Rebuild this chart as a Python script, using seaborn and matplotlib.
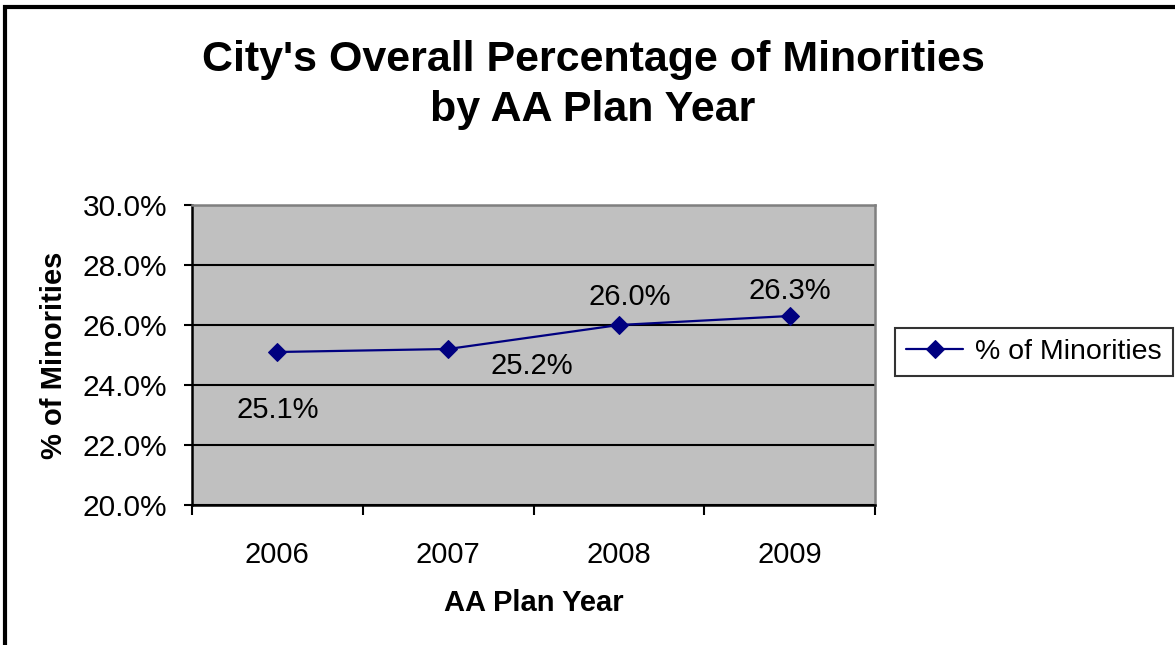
import numpy as np
import pandas as pd
import matplotlib
matplotlib.use('Agg')
import matplotlib.pyplot as plt
import matplotlib.patches as patches
from matplotlib.ticker import FixedLocator
import seaborn as sns

# Chart data
years = ['2006', '2007', '2008', '2009']
minority_pct = [25.1, 25.2, 26.0, 26.3]
y_ticks = [20.0, 22.0, 24.0, 26.0, 28.0, 30.0]
series_name = '% of Minorities'

# where each data label sits relative to its marker (points)
label_offsets = [(0, -42), (60, -12), (8, 20), (0, 18)]

sns.set_style('white')
plt.rcParams['font.family'] = ['Liberation Sans', 'DejaVu Sans']
plt.rcParams['text.color'] = 'black'
plt.rcParams['axes.labelcolor'] = 'black'
plt.rcParams['xtick.color'] = 'black'
plt.rcParams['ytick.color'] = 'black'

df = pd.DataFrame({'pos': np.arange(len(years)), 'pct': minority_pct})

fig = plt.figure(figsize=(11.75, 6.45), dpi=100)
ax = fig.add_axes([192 / 1175, 1 - 505 / 645, 683 / 1175, 300 / 645])
ax.set_facecolor('#C0C0C0')

sns.lineplot(data=df, x='pos', y='pct', ax=ax, color='#000080', linewidth=1.6,
             marker='D', markersize=9, markeredgecolor='#000080', label=series_name)

for i, v in enumerate(minority_pct):
    ax.annotate(f'{v:.1f}%', (df['pos'][i], v), xytext=label_offsets[i],
                textcoords='offset points', ha='center', va='center', fontsize=21)

ax.set_xlim(-0.5, len(years) - 0.5)
ax.set_ylim(y_ticks[0], y_ticks[-1])
ax.set_yticks(y_ticks)
ax.set_yticklabels([f'{t:.1f}%' for t in y_ticks], fontsize=21.5)
ax.set_xticks(df['pos'])
ax.set_xticklabels(years, fontsize=21)
ax.xaxis.set_minor_locator(FixedLocator(np.arange(-0.5, len(years), 1.0)))
ax.tick_params(axis='x', which='major', length=0, pad=26)
ax.tick_params(axis='x', which='minor', length=7, width=1.5, color='black', direction='out', bottom=True)
ax.tick_params(axis='y', which='major', length=6, width=1.5, color='black', direction='out', left=True, pad=12)

ax.grid(axis='y', color='black', linewidth=1.5)
ax.grid(axis='x', visible=False)
for side in ['left', 'bottom']:
    ax.spines[side].set_color('black')
    ax.spines[side].set_linewidth(1.8)
for side in ['top', 'right']:
    ax.spines[side].set_color('#808080')
    ax.spines[side].set_linewidth(1.8)

ax.set_xlabel('AA Plan Year', fontsize=21, fontweight='bold', labelpad=14)
ax.set_ylabel('% of Minorities', fontsize=21, fontweight='bold', labelpad=10)

fig.text(593 / 1175, 1 - 85 / 645, "City's Overall Percentage of Minorities\nby AA Plan Year",
         ha='center', va='center', fontsize=31, fontweight='bold', linespacing=1.3)

leg = ax.legend(loc='center left', bbox_to_anchor=(895 / 1175, 1 - 352 / 645),
                bbox_transform=fig.transFigure, fontsize=20.5, frameon=True, fancybox=False,
                edgecolor='black', handlelength=2.0, handletextpad=0.4, borderpad=0.4,
                borderaxespad=0)
leg.get_frame().set_linewidth(1.5)

# outer chart border (runs off the right and bottom edges)
fig.patches.append(patches.Rectangle((5 / 1175, -0.1), 1.1, 1.1 - 7 / 645,
                                     transform=fig.transFigure, fill=False,
                                     edgecolor='black', linewidth=3, clip_on=False))

fig.savefig('out.png', dpi=100)
